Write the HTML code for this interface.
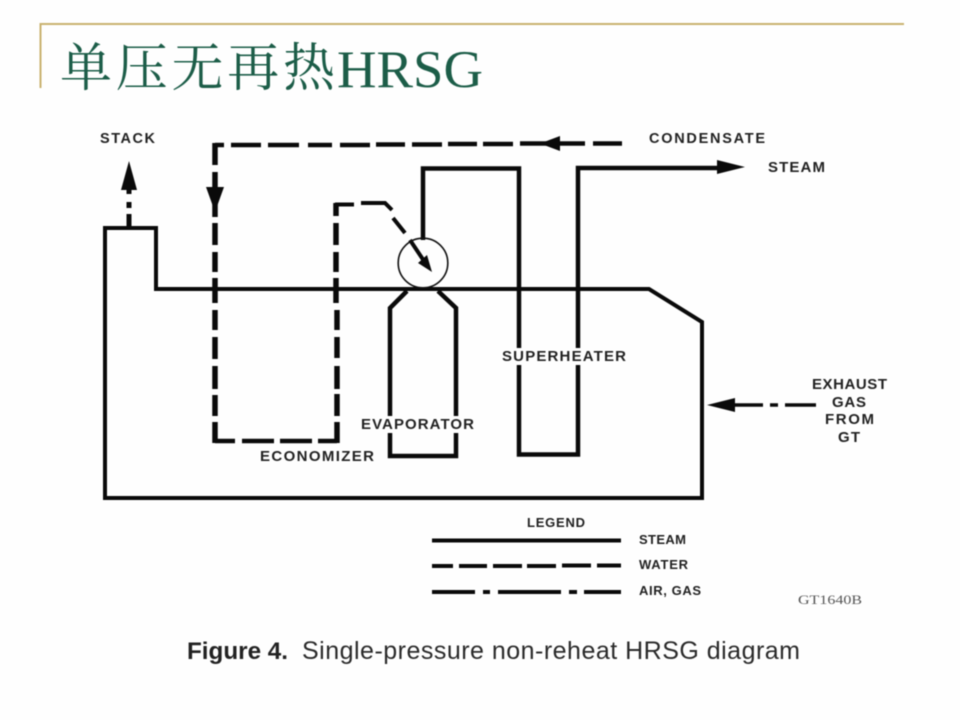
<!DOCTYPE html>
<html lang="zh">
<head>
<meta charset="utf-8">
<title>单压无再热HRSG</title>
<style>
html,body{margin:0;padding:0;background:#fefefe;width:960px;height:720px;overflow:hidden}
svg{display:block;filter:blur(.45px)}
.l{font-family:"Liberation Sans",sans-serif;font-weight:bold;fill:#222}
</style>
</head>
<body>
<svg width="960" height="720" viewBox="0 0 960 720" xmlns="http://www.w3.org/2000/svg">
<rect width="960" height="720" fill="#fefefe"/>
<!-- header rule -->
<path d="M904 24H40.500V88" fill="none" stroke="#c9b26f" stroke-width="2"/>
<text x="60" y="86" font-size="52" textLength="275" fill="#1c5d48" style="font-family:'Noto Serif CJK SC',serif">单压无再热</text>
<text x="337" y="87" font-size="53" textLength="146" lengthAdjust="spacingAndGlyphs" fill="#1c5d48" style="font-family:'Liberation Serif',serif">HRSG</text>

<g fill="none" stroke="#0a0a0a" stroke-width="4" stroke-linejoin="miter">
<!-- casing -->
<path d="M105 498V228H156V289H649L702 322V498Z"/>
<!-- stack gas -->
<path d="M129 228V214M129 208V202" stroke-width="5"/>
<path d="M129 194V180" stroke-width="5"/>
<!-- steam -->
<path d="M423 240V168.500H519V454.500H578V168H720" stroke-width="4.500"/>
<!-- evaporator -->
<path d="M407 291L390 308V456H456V308L438 291" stroke-width="4.500"/>
<!-- water, horizontal -->
<path d="M622 143.500H593M585 143.500H520M513 144H483M477 144H448M442 144.500H412M405 144.500H376M370 145H340M332 145H308M299 145H268M261 145H231M224 145H215" stroke-width="4.500"/>
<path d="M215 441H235M242 441H274M280 441H312M318 441H337" stroke-width="4.500"/>
<path d="M354 204.500H335M361 203H385L392 210M393 218L405 233" stroke-width="4"/>
<!-- water, vertical -->
<path d="M215 143V165M215 172V217M215 223V245M215 252V272M215 278V303M215 310V330M215 337V359M215 366V389M215 395V416M215 422V443" stroke-width="5.500"/>
<path d="M337 443V422M337 416V394M337 389V366M337 358V337M337 330V310M336 303V278M336 272V252M336 245V223M336 216V203" stroke-width="5.500"/>
<path d="M410 240L426 264" stroke-width="4"/>
<!-- exhaust -->
<path d="M735 405H763M770 405H778M785 405H816" stroke-width="3.500"/>
<!-- legend -->
<path d="M432 540.500H621"/>
<path d="M432 566H453M459 566H487M493 566H522M527 566H556M562 565.500H591M597 565.500H621"/>
<path d="M432 592H475M483 592H490M498 592H561M569 592H577M584 592H621"/>
</g>

<circle cx="423" cy="263" r="24.800" fill="none" stroke="#111" stroke-width="1.600"/>

<!-- arrowheads -->
<g fill="#0a0a0a">
<path d="M129 161L137 190H121Z"/>
<path d="M215 212L206 187H224Z"/>
<path d="M540 143.500L560 136V151Z"/>
<path d="M432 272L418 263L427 255Z"/>
<path d="M745 167L717 160V174Z"/>
<path d="M707 405L735 398V412Z"/>
</g>

<!-- label gaps -->
<rect x="502" y="348" width="124" height="17" fill="#fefefe"/>
<rect x="361" y="416" width="113" height="17" fill="#fefefe"/>

<text class="l" x="100" y="143" font-size="14.500" textLength="55">STACK</text>
<text class="l" x="649" y="143" font-size="14.500" textLength="116">CONDENSATE</text>
<text class="l" x="768" y="172" font-size="15" textLength="57">STEAM</text>
<text class="l" x="502" y="361" font-size="15" textLength="124">SUPERHEATER</text>
<text class="l" x="361" y="429" font-size="15" textLength="113">EVAPORATOR</text>
<text class="l" x="260" y="461" font-size="15" textLength="114">ECONOMIZER</text>
<text class="l" x="812" y="389" font-size="15" textLength="75">EXHAUST</text>
<text class="l" x="832" y="407" font-size="15" textLength="34">GAS</text>
<text class="l" x="825" y="424" font-size="15" textLength="49">FROM</text>
<text class="l" x="838" y="442" font-size="15" textLength="22">GT</text>
<text class="l" x="527" y="527" font-size="13" textLength="58">LEGEND</text>
<text class="l" x="639" y="544" font-size="13" textLength="47">STEAM</text>
<text class="l" x="639" y="569" font-size="13" textLength="49">WATER</text>
<text class="l" x="639" y="595" font-size="13" textLength="62">AIR, GAS</text>
<text x="798" y="604" font-size="13" textLength="64" lengthAdjust="spacingAndGlyphs" fill="#555" style="font-family:'Liberation Serif',serif">GT1640B</text>
<text x="187" y="659" font-size="24" font-weight="bold" textLength="101" lengthAdjust="spacingAndGlyphs" fill="#222" style="font-family:'Liberation Sans',sans-serif">Figure 4.</text>
<text x="302" y="659" font-size="25" textLength="498" fill="#2a2a2a" style="font-family:'Liberation Sans',sans-serif">Single-pressure non-reheat HRSG diagram</text>
</svg>
</body>
</html>
